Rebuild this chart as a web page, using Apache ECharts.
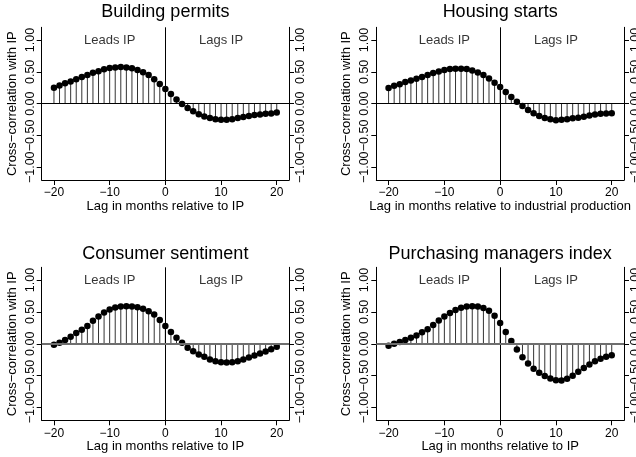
<!DOCTYPE html>
<html>
<head>
<meta charset="utf-8">
<script src="https://cdn.jsdelivr.net/npm/echarts@6/dist/echarts.min.js"></script>
<style>
  html, body { margin: 0; padding: 0; background: #fff; }
  #chart { width: 636px; height: 457px; }
</style>
</head>
<body>
<div id="chart"></div>
<script>
// Lags in months, -20 .. 20
const lags = [-20, -19, -18, -17, -16, -15, -14, -13, -12, -11, -10, -9, -8, -7, -6, -5, -4, -3, -2, -1,
  0, 1, 2, 3, 4, 5, 6, 7, 8, 9, 10, 11, 12, 13, 14, 15, 16, 17, 18, 19, 20];

// Cross-correlations with industrial production at each lag
const buildingPermits = [0.25, 0.285, 0.32, 0.35, 0.385, 0.42, 0.45, 0.485, 0.51, 0.54, 0.56, 0.57, 0.575, 0.57, 0.555, 0.53, 0.495, 0.45, 0.385, 0.31,
  0.23, 0.15, 0.065, -0.005, -0.07, -0.12, -0.165, -0.2, -0.225, -0.245, -0.255, -0.255, -0.245, -0.225, -0.21, -0.195, -0.18, -0.17, -0.16, -0.155, -0.14];
const housingStarts = [0.245, 0.28, 0.305, 0.34, 0.365, 0.39, 0.42, 0.45, 0.48, 0.505, 0.53, 0.545, 0.55, 0.55, 0.545, 0.52, 0.49, 0.45, 0.395, 0.33,
  0.26, 0.185, 0.105, 0.03, -0.035, -0.1, -0.15, -0.195, -0.225, -0.245, -0.26, -0.255, -0.245, -0.23, -0.22, -0.205, -0.185, -0.17, -0.16, -0.155, -0.15];
const consumerSentiment = [-0.016, 0.016, 0.058, 0.11, 0.17, 0.22, 0.28, 0.36, 0.43, 0.49, 0.54, 0.57, 0.585, 0.59, 0.585, 0.575, 0.55, 0.51, 0.46, 0.375,
  0.28, 0.185, 0.095, 0.016, -0.063, -0.116, -0.168, -0.205, -0.247, -0.274, -0.29, -0.295, -0.29, -0.274, -0.247, -0.216, -0.184, -0.153, -0.121, -0.084, -0.047];
const purchasingManagers = [-0.03, 0.0, 0.03, 0.06, 0.095, 0.13, 0.18, 0.23, 0.295, 0.365, 0.43, 0.485, 0.53, 0.565, 0.585, 0.59, 0.585, 0.56, 0.52, 0.44,
  0.325, 0.185, 0.045, -0.09, -0.21, -0.31, -0.39, -0.455, -0.505, -0.545, -0.57, -0.575, -0.55, -0.5, -0.44, -0.38, -0.325, -0.275, -0.235, -0.205, -0.18];

// Tick positions
const xTicks = [-20, -10, 0, 10, 20];
const yTicks = [-1, -0.5, 0, 0.5, 1];

// Region annotations
const regionLabels = ['Leads IP', 'Lags IP'];
const regionLags = [-10, 10];
const regionLevel = 1;

const FONT = '"Liberation Sans", Arial, Helvetica, sans-serif';

const panels = [
  { title: 'Building permits', xName: 'Lag in months relative to IP', values: buildingPermits,
    box: { left: 41.7, top: 27.3, width: 247.3, height: 152.7 }, titleTop: 3, zeroColor: '#000', zeroWidth: 1 },
  { title: 'Housing starts', xName: 'Lag in months relative to industrial production', values: housingStarts,
    box: { left: 376.3, top: 27.3, width: 247.7, height: 152.7 }, titleTop: 3, zeroColor: '#000', zeroWidth: 1 },
  { title: 'Consumer sentiment', xName: 'Lag in months relative to IP', values: consumerSentiment,
    box: { left: 41.7, top: 267.3, width: 247.3, height: 153 }, titleTop: 245, zeroColor: '#6e6e6e', zeroWidth: 2 },
  { title: 'Purchasing managers index', xName: 'Lag in months relative to IP', values: purchasingManagers,
    box: { left: 376.3, top: 267.3, width: 247.7, height: 153 }, titleTop: 245, zeroColor: '#6e6e6e', zeroWidth: 2 }
];

const minus = s => String(s).replace('-', '\u2212');
const fmtX = v => minus(v);
const fmtY = v => (v < 0 ? '\u2212' : '') + Math.abs(v).toFixed(2);

function yAxisFor(i, pos) {
  return {
    gridIndex: i,
    type: 'value',
    position: pos,
    min: -1.2,
    max: 1.2,
    axisLine: { show: true, onZero: false, lineStyle: { color: '#000', width: 1 } },
    axisTick: { show: true, length: 5, customValues: yTicks, lineStyle: { color: '#000', width: 1 } },
    axisLabel: { show: true, customValues: yTicks, formatter: fmtY, rotate: 90, margin: 5,
      fontSize: 12.5, color: '#000', fontFamily: FONT, hideOverlap: false },
    splitLine: { show: false },
    name: pos === 'left' ? 'Cross\u2212correlation with IP' : '',
    nameLocation: 'middle',
    nameRotate: 90,
    nameGap: 23,
    nameTextStyle: { fontSize: 13, color: '#000', fontFamily: FONT }
  };
}

const option = {
  animation: false,
  backgroundColor: '#fff',
  title: panels.map(p => ({
    text: p.title,
    left: p.box.left + p.box.width / 2,
    top: p.titleTop,
    textAlign: 'center',
    padding: 0,
    textStyle: { fontSize: 18, fontWeight: 'normal', color: '#000', fontFamily: FONT }
  })),
  grid: panels.map(p => Object.assign({ containLabel: false, outerBoundsMode: 'none' }, p.box)),
  xAxis: panels.map((p, i) => ({
    gridIndex: i,
    type: 'value',
    min: -22.2,
    max: 22.2,
    axisLine: { show: true, onZero: false, lineStyle: { color: '#000', width: 1 } },
    axisTick: { show: true, length: 5, customValues: xTicks, lineStyle: { color: '#000', width: 1 } },
    axisLabel: { show: true, customValues: xTicks, formatter: fmtX, margin: 7,
      fontSize: 12, color: '#000', fontFamily: FONT, hideOverlap: false },
    splitLine: { show: false },
    name: p.xName,
    nameLocation: 'middle',
    nameGap: 20,
    nameTextStyle: { fontSize: 13, color: '#000', fontFamily: FONT }
  })),
  yAxis: panels.flatMap((p, i) => [yAxisFor(i, 'left'), yAxisFor(i, 'right')]),
  series: panels.flatMap((p, i) => {
    const pts = lags.map((l, k) => [l, p.values[k]]);
    return [
      {
        type: 'bar',
        xAxisIndex: i,
        yAxisIndex: 2 * i,
        data: pts,
        barWidth: 1,
        itemStyle: { color: '#333' },
        silent: true,
        z: 2,
        markLine: {
          silent: true,
          symbol: ['none', 'none'],
          label: { show: false },
          emphasis: { disabled: true },
          data: [
            { xAxis: 0, lineStyle: { color: '#000', width: 1, type: 'solid' } },
            { yAxis: 0, lineStyle: { color: p.zeroColor, width: p.zeroWidth, type: 'solid' } }
          ]
        }
      },
      {
        type: 'scatter',
        xAxisIndex: i,
        yAxisIndex: 2 * i,
        data: pts,
        symbol: 'circle',
        symbolSize: 6.5,
        itemStyle: { color: '#000', opacity: 1 },
        silent: true,
        z: 4
      },
      {
        type: 'scatter',
        xAxisIndex: i,
        yAxisIndex: 2 * i,
        data: regionLabels.map((t, k) => ({ name: t, value: [regionLags[k], regionLevel] })),
        symbolSize: 0,
        silent: true,
        label: { show: true, position: 'inside', formatter: d => d.name,
          fontSize: 13, color: '#000', fontFamily: FONT },
        z: 5
      }
    ];
  })
};

const chart = echarts.init(document.getElementById('chart'), null, { renderer: 'canvas' });
chart.setOption(option);
</script>
</body>
</html>
